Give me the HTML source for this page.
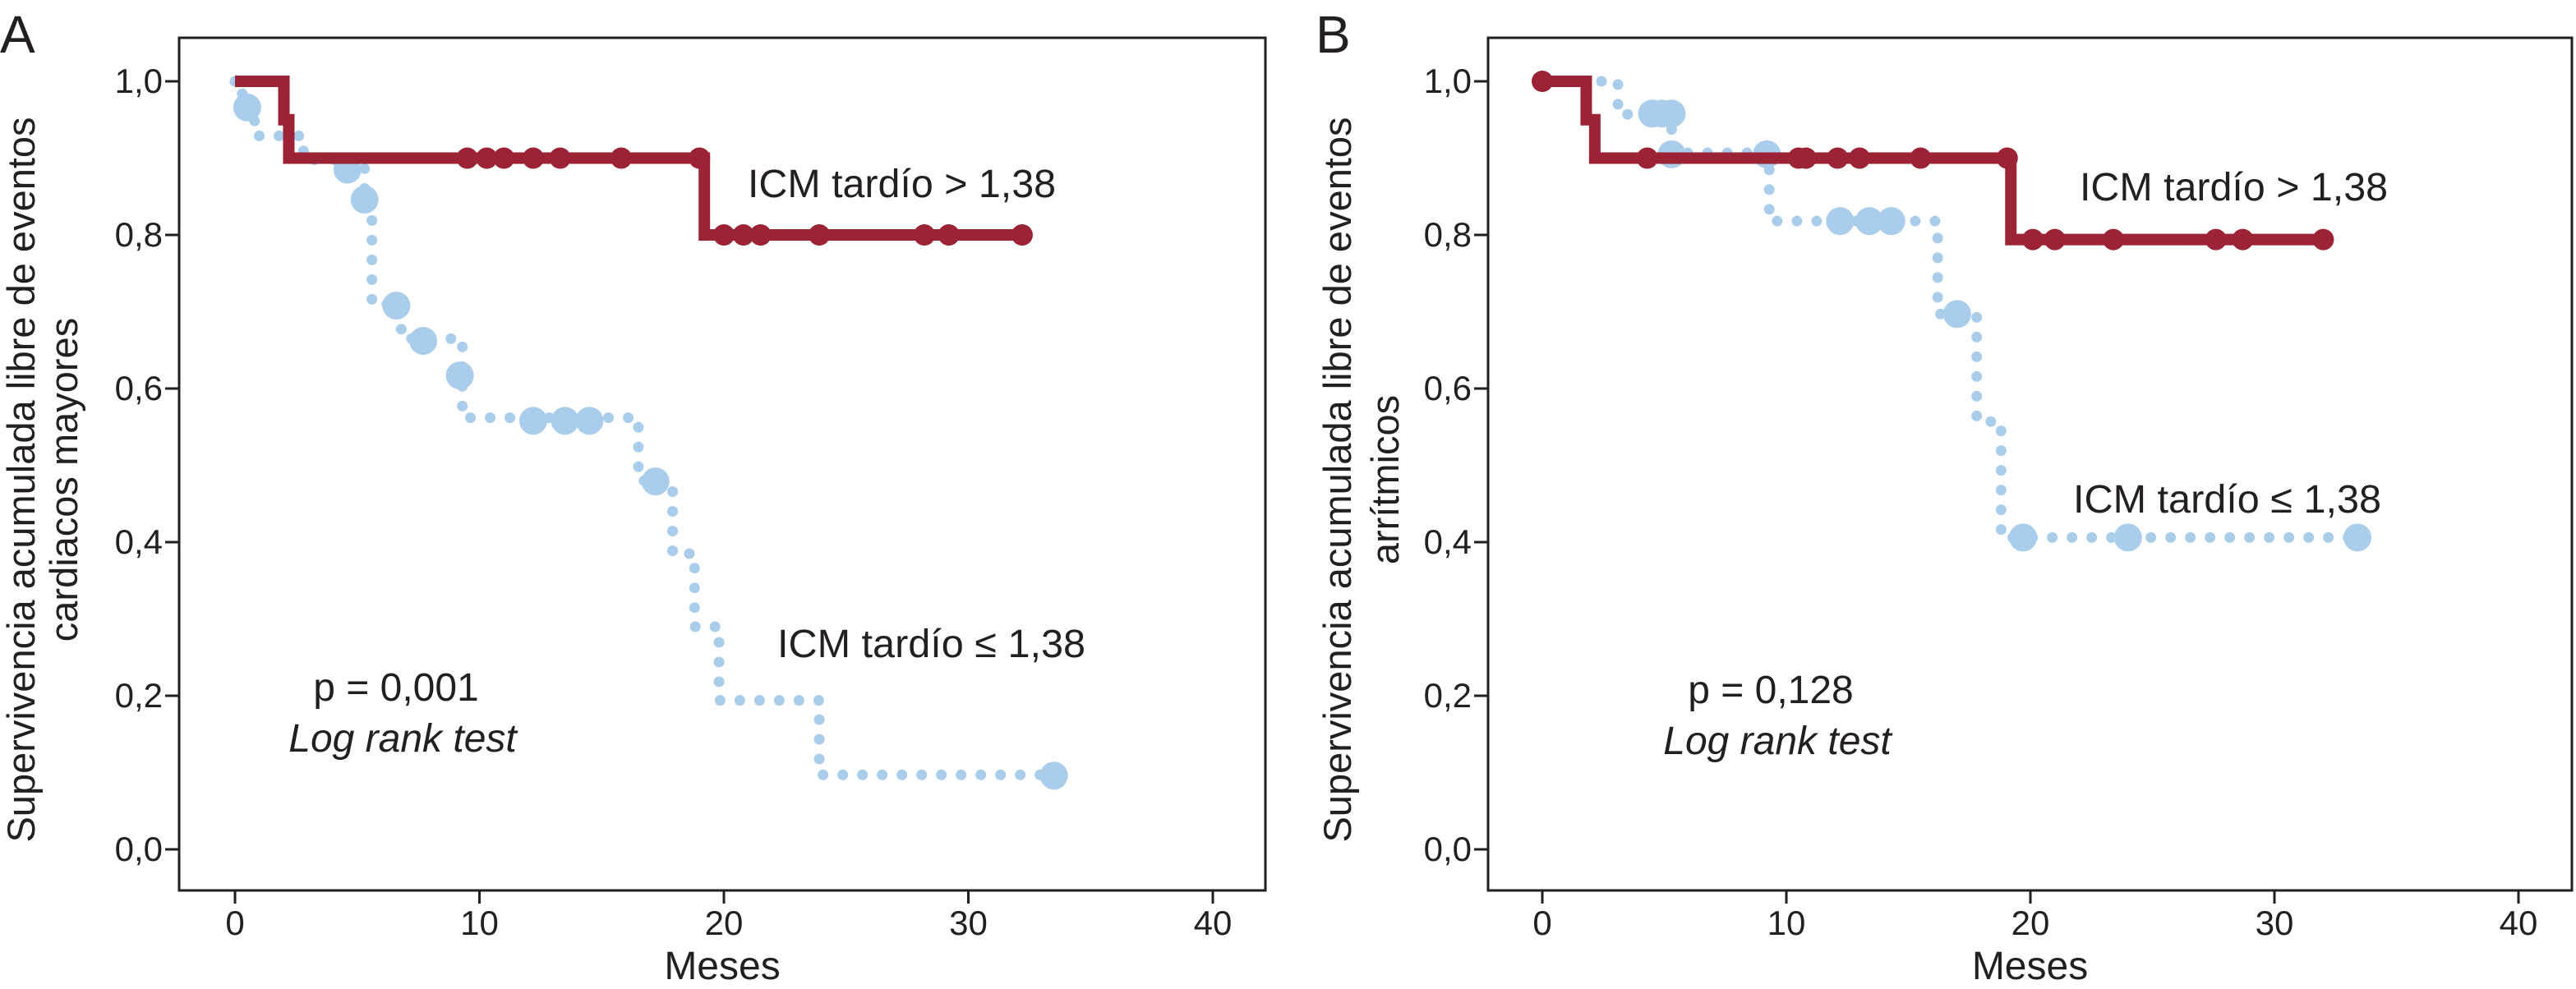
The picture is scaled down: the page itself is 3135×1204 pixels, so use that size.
<!DOCTYPE html>
<html><head><meta charset="utf-8"><style>
html,body{margin:0;padding:0;background:#fff}
svg{display:block}
text{font-family:"Liberation Sans Narrow","Liberation Sans",sans-serif;fill:#231f20}
</style></head><body>
<svg id="chart" width="3135" height="1204" viewBox="0 0 3135 1204" xmlns="http://www.w3.org/2000/svg"></svg>
<script>
// ---- Panel A data ----
const aRedT = [0, 2.0, 2.2, 19.2];
const aRedS = [1.0, 0.95, 0.9, 0.8];
const aRedEnd = 32.2;
const aRedCensT = [9.5, 10.3, 11.0, 12.2, 13.3, 15.8, 19.0, 20.0, 20.8, 21.5, 23.9, 28.2, 29.2, 32.2];
const aRedCensS = [0.9, 0.9, 0.9, 0.9, 0.9, 0.9, 0.9, 0.8, 0.8, 0.8, 0.8, 0.8, 0.8, 0.8];
const aBlueT = [0, 0.3, 0.8, 2.8, 5.3, 5.6, 6.8, 9.3, 16.5, 17.9, 18.8, 19.8, 23.9];
const aBlueS = [1.0, 0.966, 0.929, 0.898, 0.846, 0.71, 0.665, 0.562, 0.48, 0.385, 0.29, 0.194, 0.097];
const aBlueEnd = 33.5;
const aBlueCensT = [0.5, 4.6, 5.3, 6.6, 7.7, 9.2, 12.2, 13.5, 14.5, 17.2, 33.5];
const aBlueCensS = [0.966, 0.885, 0.846, 0.708, 0.662, 0.617, 0.558, 0.558, 0.558, 0.479, 0.096];
// ---- Panel B data ----
const bRedT = [0, 1.8, 2.15, 19.2];
const bRedS = [1.0, 0.95, 0.9, 0.794];
const bRedEnd = 32.0;
const bRedCensT = [0, 4.3, 10.5, 10.8, 12.1, 13.0, 15.5, 19.05, 20.1, 21.0, 23.4, 27.6, 28.7, 32.0];
const bRedCensS = [1.0, 0.9, 0.9, 0.9, 0.9, 0.9, 0.9, 0.9, 0.794, 0.794, 0.794, 0.794, 0.794, 0.794];
const bBlueT = [0, 3.1, 5.3, 9.3, 16.2, 17.8, 18.8];
const bBlueS = [1.0, 0.957, 0.907, 0.818, 0.697, 0.557, 0.406];
const bBlueEnd = 33.4;
const bBlueCensT = [4.5, 4.9, 5.3, 5.3, 9.2, 12.2, 13.4, 14.3, 17.0, 19.7, 24.0, 33.4];
const bBlueCensS = [0.958, 0.958, 0.958, 0.905, 0.905, 0.818, 0.818, 0.818, 0.697, 0.406, 0.406, 0.406];
// ---- axis ticks ----
const xTicks = [0, 10, 20, 30, 40];
const yTicks = [0, 0.2, 0.4, 0.6, 0.8, 1.0];
const yTickLabels = ["0,0", "0,2", "0,4", "0,6", "0,8", "1,0"];

const NS = "http://www.w3.org/2000/svg";
const svg = document.getElementById("chart");
const RED = "#9b2335", BLUE = "#aacdec";

function mk(tag, attrs, parent) {
  const e = document.createElementNS(NS, tag);
  for (const k in attrs) e.setAttribute(k, attrs[k]);
  (parent || svg).appendChild(e);
  return e;
}
function txt(parent, str, x, y, size, anchor, extra) {
  const t = mk("text", Object.assign({x: x, y: y, "font-size": size, "text-anchor": anchor || "start"}, extra || {}), parent);
  t.textContent = str;
  return t;
}
function stepPath(T, S, end, sx, sy) {
  let d = "M" + sx(T[0]) + "," + sy(S[0]);
  for (let i = 1; i < T.length; i++) {
    d += " H" + sx(T[i]) + " V" + sy(S[i]);
  }
  d += " H" + sx(end);
  return d;
}

function panel(cfg) {
  const g = mk("g", {});
  
  
  const sx = t => cfg.x0 + (cfg.x40 - cfg.x0) * t / 40;
  const sy = v => cfg.y0 - (cfg.y0 - cfg.y1) * v;

  const box = mk("rect", {x: cfg.bl, y: 46, width: cfg.br - cfg.bl, height: 1038, fill: "none", stroke: "#231f20", "stroke-width": 3}, g);
  
  

  const xa = mk("g", {}, g);
  
  
  xTicks.forEach(t => {
    mk("line", {x1: sx(t), x2: sx(t), y1: 1084, y2: 1100, stroke: "#231f20", "stroke-width": 3}, xa);
    const l = txt(xa, String(t), sx(t), 1138, 42, "middle");
    
    
  });
  const xt = txt(xa, "Meses", (cfg.bl + cfg.br) / 2, 1192, 48, "middle");
  
  

  const ya = mk("g", {}, g);
  
  
  yTicks.forEach((v, i) => {
    mk("line", {x1: cfg.bl - 17, x2: cfg.bl, y1: sy(v), y2: sy(v), stroke: "#231f20", "stroke-width": 3}, ya);
    const l = txt(ya, yTickLabels[i], cfg.bl - 20, sy(v) + 14, 42, "end");
    
    
  });
  const yt = mk("text", {transform: "translate(" + cfg.ytx + ",584) rotate(-90)", "font-size": 47, "text-anchor": "middle", style: "font-family:'Liberation Sans',sans-serif"}, ya);
  
  
  const t1 = mk("tspan", {x: 0, y: 0}, yt); t1.textContent = cfg.ytitle1;
  const t2 = mk("tspan", {x: 0, y: cfg.ygap}, yt); t2.textContent = cfg.ytitle2;

  // blue series
  const bp = mk("path", {d: stepPath(cfg.bT, cfg.bS, cfg.bEnd, sx, sy), fill: "none", stroke: BLUE, "stroke-width": 13, "stroke-linecap": "round", "stroke-dasharray": "0 24"}, g);
  
  
  cfg.bCT.forEach((t, i) => {
    const c = mk("circle", {cx: sx(t), cy: sy(cfg.bCS[i]), r: 17, fill: BLUE}, g);
    
    
  });
  // red series
  const rp = mk("path", {d: stepPath(cfg.rT, cfg.rS, cfg.rEnd, sx, sy), fill: "none", stroke: RED, "stroke-width": 14}, g);
  
  
  cfg.rCT.forEach((t, i) => {
    const c = mk("circle", {cx: sx(t), cy: sy(cfg.rCS[i]), r: 13, fill: RED}, g);
    
    
  });

  const pl = txt(g, cfg.letter, cfg.letterX, 64, 64, "start", {style: "font-family:'Liberation Sans',sans-serif"});
  
  
  const l1 = txt(g, "ICM tardío > 1,38", cfg.hiX, cfg.hiY, 48, "start", {textLength: 375, lengthAdjust: "spacingAndGlyphs"});
  
  
  const l2 = txt(g, "ICM tardío ≤ 1,38", cfg.loX, cfg.loY, 48, "start", {textLength: 375, lengthAdjust: "spacingAndGlyphs"});
  
  
  const p = txt(g, cfg.pText, cfg.pX, cfg.pY, 48, "middle");
  
  
  const lr = txt(g, "Log rank test", cfg.pX + 8, cfg.pY + 62, 48, "middle", {"font-style": "italic"});
  
  
}

panel({name: "panel-a", x0: 286, x40: 1476, y1: 99, y0: 1034, bl: 218, br: 1540,
  rT: aRedT, rS: aRedS, rEnd: aRedEnd, rCT: aRedCensT, rCS: aRedCensS,
  bT: aBlueT, bS: aBlueS, bEnd: aBlueEnd, bCT: aBlueCensT, bCS: aBlueCensS,
  letter: "A", letterX: 0, ytx: 42, ygap: 52,
  ytitle1: "Supervivencia acumulada libre de eventos", ytitle2: "cardiacos mayores",
  hiX: 910, hiY: 240, loX: 946, loY: 800, pText: "p = 0,001", pX: 482, pY: 853});
panel({name: "panel-b", x0: 1877, x40: 3065, y1: 99, y0: 1034, bl: 1811, br: 3130,
  rT: bRedT, rS: bRedS, rEnd: bRedEnd, rCT: bRedCensT, rCS: bRedCensS,
  bT: bBlueT, bS: bBlueS, bEnd: bBlueEnd, bCT: bBlueCensT, bCS: bBlueCensS,
  letter: "B", letterX: 1601, ytx: 1644, ygap: 58,
  ytitle1: "Supervivencia acumulada libre de eventos", ytitle2: "arrítmicos",
  hiX: 2531, hiY: 244, loX: 2523, loY: 624, pText: "p = 0,128", pX: 2155, pY: 856});
</script>
</body></html>
